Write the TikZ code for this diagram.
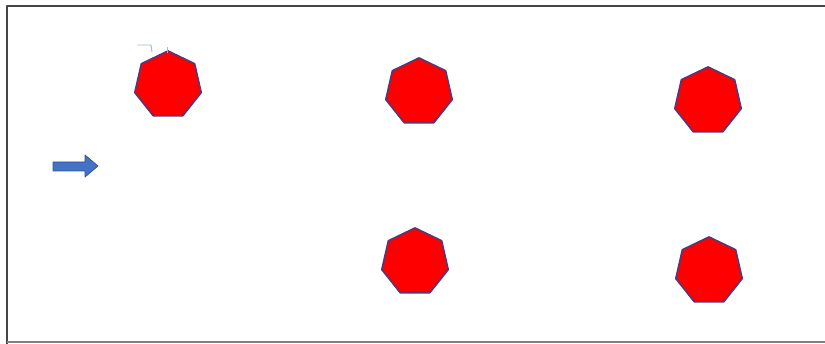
\documentclass[tikz,border=0pt]{standalone}
\usetikzlibrary{shapes.geometric}
\definecolor{edgeblue}{RGB}{96,52,112}
\definecolor{arrblue}{RGB}{68,114,196}
\definecolor{arredge}{RGB}{47,82,143}
\definecolor{framegray}{RGB}{70,70,70}
\tikzset{hepta/.style={regular polygon, regular polygon sides=7, fill=red, draw=edgeblue, line width=1.5pt, minimum size=68*0.03cm, inner sep=0pt}}
\begin{document}
\begin{tikzpicture}[x=0.03cm,y=-0.03cm, line join=round]
	\useasboundingbox (0,0) rectangle (825,344);
	% frame
	\draw[framegray, line width=1.2pt] (7,344)--(7,6)--(825,6);
	\draw[gray, line width=1pt] (7,342)--(825,342);
	% heptagons
	\node[hepta] (h1) at (168,85) {};
	\node[hepta] (h2) at (419,92) {};
	\node[hepta] (h3) at (708,101) {};
	\node[hepta] (h4) at (415,262) {};
	\node[hepta] (h5) at (709,271) {};
	% handle
	\draw[arrblue!50, line width=0.8pt] (137,45)--(151,45)--(152,52);
	\draw[arrblue!50, line width=0.8pt] (167,47)--(167,53);
	% block arrow
	\draw[fill=arrblue, draw=arredge, line width=0.6pt] (53,162)--(85,162)--(85,155)--(98,166)--(85,177)--(85,171)--(53,171)--cycle;
\end{tikzpicture}
\end{document}
